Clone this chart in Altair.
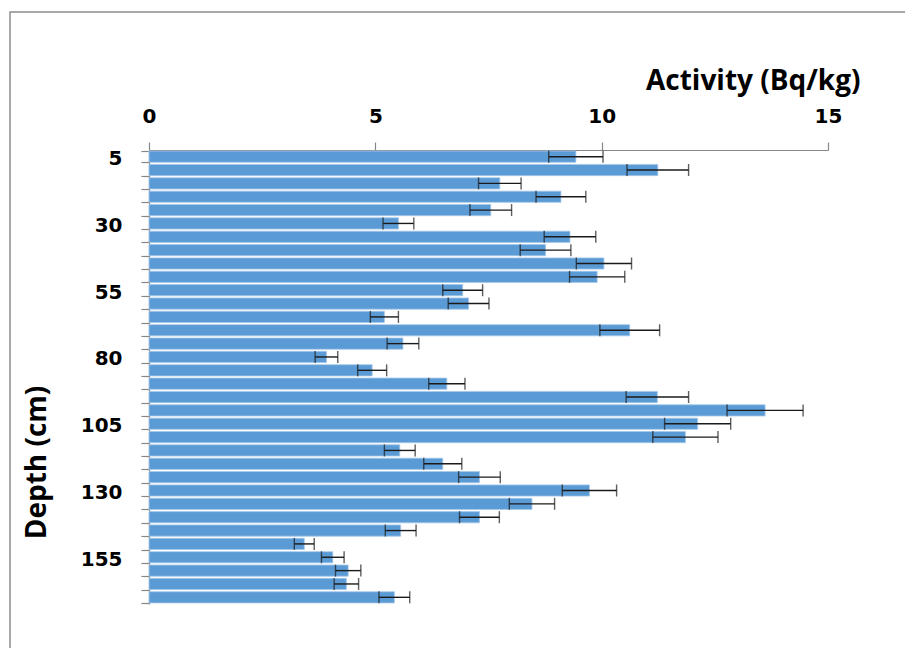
import altair as alt
import pandas as pd

depths = [5, 10, 15, 20, 25, 30, 35, 40, 45, 50, 55, 60, 65, 70, 75, 80, 85,
          90, 95, 100, 105, 110, 115, 120, 125, 130, 135, 140, 145, 150, 155,
          160, 165, 170]
activity = [9.43, 11.24, 7.75, 9.10, 7.55, 5.51, 9.30, 8.76, 10.05, 9.90, 6.93,
            7.06, 5.20, 10.62, 5.61, 3.92, 4.93, 6.58, 11.23, 13.61, 12.12, 11.85,
            5.54, 6.49, 7.30, 9.73, 8.46, 7.30, 5.56, 3.43, 4.06, 4.40, 4.36, 5.42]
errors = [0.60, 0.68, 0.47, 0.55, 0.46, 0.34, 0.57, 0.56, 0.61, 0.61, 0.44,
          0.45, 0.31, 0.66, 0.35, 0.25, 0.32, 0.40, 0.69, 0.84, 0.73, 0.72,
          0.34, 0.42, 0.46, 0.60, 0.50, 0.44, 0.34, 0.22, 0.25, 0.28, 0.27, 0.34]
x_ticks = [0, 5, 10, 15]

df = pd.DataFrame({"depth": depths, "activity": activity, "err": errors})
df["lo"] = df["activity"] - df["err"]
df["hi"] = df["activity"] + df["err"]

W, H = 679, 454
FONT = "Open Sans"
LFONT = "DejaVu Sans"
AXC = "#868686"

y_enc = alt.Y(
    "depth:O",
    scale=alt.Scale(paddingInner=0.16, paddingOuter=0.08),
    axis=alt.Axis(
        title="Depth (cm)",
        tickBand="extent",
        labelExpr="(datum.value - 5) % 25 == 0 ? datum.label : ''",
        labelFont=LFONT, labelFontWeight="bold", labelFontSize=20, labelColor="#000",
        labelPadding=19, labelBaseline="middle", labelOffset=2,
        tickSize=8, tickColor=AXC, domainColor=AXC, tickWidth=1.2, domainWidth=1.2,
        titleFont=FONT, titleFontWeight="bold", titleFontSize=28, titleColor="#000",
        titleAngle=-90, titleX=-104, titleY=312, titleAlign="center",
        titleBaseline="alphabetic",
    ),
)

x_scale = alt.Scale(domain=[0, 15], nice=False)
x_axis = alt.Axis(
    orient="top", values=x_ticks, grid=False, title="Activity (Bq/kg)",
    labelFont=LFONT, labelFontWeight="bold", labelFontSize=20, labelColor="#000",
    labelBaseline="alphabetic", labelPadding=20, labelFlush=False,
    tickSize=8, tickColor=AXC, domainColor=AXC, tickWidth=1.2, domainWidth=1.2,
    titleFont=FONT, titleFontWeight="bold", titleFontSize=28, titleColor="#000",
    titleAnchor="end", titleAlign="right", titleX=711, titleY=-61,
    titleBaseline="alphabetic",
)

base = alt.Chart(df)

bars = base.mark_bar(color="#5B9BD5", stroke="#A6C8EA", strokeWidth=0.8).encode(
    x=alt.X("activity:Q", scale=x_scale, axis=x_axis),
    y=y_enc,
)

err_rule = base.mark_rule(color="#1a1a1a", strokeWidth=1.4).encode(
    x="lo:Q", x2="hi:Q", y=alt.Y("depth:O"),
)
cap_lo = base.mark_tick(color="#1a1a1a", thickness=1.4, size=12).encode(
    x="lo:Q", y=alt.Y("depth:O"),
)
cap_hi = base.mark_tick(color="#1a1a1a", thickness=1.4, size=12).encode(
    x="hi:Q", y=alt.Y("depth:O"),
)

frame = alt.Chart(pd.DataFrame({"a": [0]})).mark_rect(
    fill=None, stroke="#8c8c8c", strokeWidth=1.5
).encode(
    x=alt.value(-139), x2=alt.value(2000), y=alt.value(-138), y2=alt.value(2000)
)

chart = alt.layer(frame, bars, err_rule, cap_lo, cap_hi).properties(
    width=W, height=H,
    autosize=alt.AutoSizeParams(type="none"),
    padding={"left": 141, "top": 142, "right": 77, "bottom": 44},
    background="white",
).configure_view(stroke=None)

chart.save("out.html", embed_options={"renderer": "svg", "actions": False})
